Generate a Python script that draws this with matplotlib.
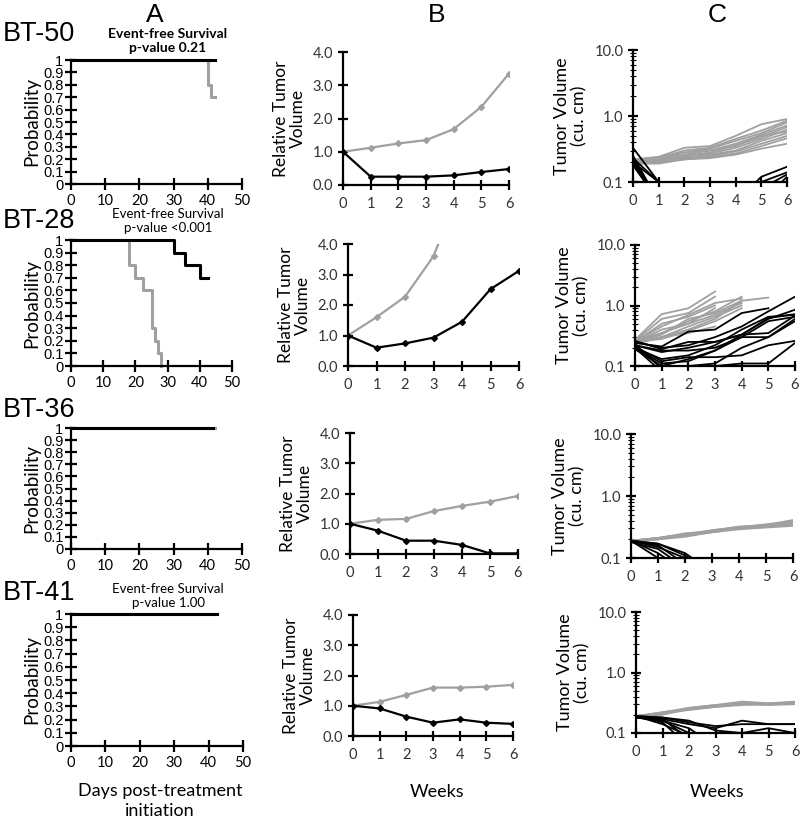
import numpy as np
import matplotlib
matplotlib.use("Agg")
from matplotlib import pyplot as plt
from matplotlib.ticker import FixedLocator, NullFormatter, LogLocator

W, H = 800, 824
GRAY = "#a0a0a0"
CAL = ["Lato", "DejaVu Sans"]
ARL = ["Liberation Sans", "DejaVu Sans"]

models = ["BT-50", "BT-28", "BT-36", "BT-41"]
efs_titles = ["Event-free Survival\np-value 0.21", "Event-free Survival\np-value <0.001",
              None, "Event-free Survival\np-value 1.00"]

# A: Kaplan-Meier steps (days, probability)
km_ctrl_t = [[0, 40, 41, 42], [0, 18, 20, 22.5, 25, 26, 27, 28], [0, 42], [0, 42]]
km_ctrl_p = [[1, 0.8, 0.7, 0.7], [1, 0.8, 0.7, 0.6, 0.3, 0.2, 0.1, 0.0], [1, 1], [1, 1]]
km_trt_t = [[0, 42], [0, 32, 35.5, 40, 42.5], [0, 41.5], [0, 42.3]]
km_trt_p = [[1, 1], [1, 0.9, 0.8, 0.7, 0.7], [1, 1], [1, 1]]

# B: relative tumor volume (mean), weeks 0-6
weeks = [0, 1, 2, 3, 4, 5, 6]
rtv_ctrl = [[1.0, 1.12, 1.25, 1.35, 1.68, 2.35, 3.35],
            [1.0, 1.6, 2.27, 3.6, 6.0],
            [1.0, 1.13, 1.16, 1.42, 1.59, 1.73, 1.92],
            [1.0, 1.13, 1.36, 1.6, 1.6, 1.63, 1.69]]
rtv_trt = [[1.0, 0.25, 0.25, 0.25, 0.29, 0.39, 0.48],
           [1.0, 0.6, 0.74, 0.93, 1.45, 2.52, 3.12],
           [1.0, 0.77, 0.44, 0.44, 0.3, 0.02, 0.02],
           [1.0, 0.91, 0.64, 0.44, 0.55, 0.44, 0.4]]

# C: individual tumor volumes (cu. cm)
tv_ctrl = [
    [[0.21, 0.24, 0.33, 0.35, 0.5, 0.75, 0.9],
     [0.22, 0.23, 0.3, 0.33, 0.45, 0.6, 0.85],
     [0.2, 0.22, 0.28, 0.32, 0.42, 0.55, 0.8],
     [0.21, 0.22, 0.26, 0.3, 0.38, 0.52, 0.72],
     [0.2, 0.21, 0.25, 0.28, 0.36, 0.48, 0.68],
     [0.2, 0.2, 0.24, 0.27, 0.33, 0.45, 0.62],
     [0.19, 0.21, 0.25, 0.26, 0.3, 0.42, 0.55],
     [0.2, 0.2, 0.23, 0.25, 0.29, 0.38, 0.5],
     [0.21, 0.2, 0.22, 0.24, 0.27, 0.35, 0.46],
     [0.19, 0.19, 0.22, 0.23, 0.26, 0.32, 0.38],
     [0.22, 0.24, 0.28, 0.3, 0.35, 0.5, 0.58]],
    [[0.27, 0.72, 0.9, 1.7],
     [0.26, 0.6, 0.75, 1.4],
     [0.25, 0.45, 0.7, 1.1, 1.3],
     [0.25, 0.35, 0.55, 0.8, 1.4],
     [0.24, 0.4, 0.5, 0.7, 1.1],
     [0.25, 0.3, 0.45, 0.65, 1.0],
     [0.24, 0.3, 0.4, 0.6, 1.2, 1.35],
     [0.26, 0.35, 0.5, 0.9],
     [0.25, 0.28, 0.38, 0.55, 0.9],
     [0.23, 0.3, 0.35, 0.45],
     [0.24, 0.33, 0.6, 0.75, 1.2],
     [0.25, 0.5, 0.65, 1.0]],
    [[0.19, 0.21, 0.24, 0.27, 0.31, 0.34, 0.41],
     [0.19, 0.21, 0.24, 0.28, 0.32, 0.33, 0.38],
     [0.19, 0.2, 0.23, 0.27, 0.3, 0.33, 0.36],
     [0.19, 0.2, 0.22, 0.26, 0.3, 0.32, 0.34],
     [0.19, 0.21, 0.25, 0.27, 0.32, 0.34, 0.37],
     [0.19, 0.2, 0.23, 0.26, 0.29, 0.31, 0.33],
     [0.19, 0.21, 0.24, 0.28, 0.31, 0.35, 0.39]],
    [[0.19, 0.21, 0.25, 0.28, 0.32, 0.31, 0.32],
     [0.19, 0.22, 0.26, 0.29, 0.31, 0.3, 0.31],
     [0.19, 0.21, 0.24, 0.27, 0.3, 0.3, 0.31],
     [0.19, 0.22, 0.25, 0.28, 0.3, 0.29, 0.3],
     [0.19, 0.21, 0.26, 0.29, 0.33, 0.31, 0.33],
     [0.19, 0.2, 0.25, 0.27, 0.29, 0.3, 0.3],
     [0.19, 0.21, 0.25, 0.28, 0.31, 0.3, 0.32]],
]
tv_trt = [
    [[0.33, 0.1, 0.1, 0.1, 0.1, 0.1, 0.1],
     [0.22, 0.05, 0.05, 0.05, 0.05, 0.12, 0.17],
     [0.2, 0.1, 0.1, 0.1, 0.1, 0.1, 0.14],
     [0.18, 0.05, 0.05, 0.05, 0.05, 0.08, 0.13],
     [0.23, 0.1, 0.1, 0.1, 0.1, 0.1, 0.1],
     [0.2, 0.05, 0.05, 0.05, 0.05, 0.05, 0.12],
     [0.25, 0.05, 0.05, 0.05, 0.05, 0.05, 0.05]],
    [[0.25, 0.2, 0.22, 0.3, 0.45, 0.8, 1.4],
     [0.24, 0.21, 0.37, 0.4, 0.75, 0.9],
     [0.22, 0.17, 0.2, 0.25, 0.33, 0.6, 0.85],
     [0.2, 0.13, 0.15, 0.22, 0.4, 0.65, 0.7],
     [0.22, 0.18, 0.18, 0.2, 0.3, 0.55, 0.65],
     [0.2, 0.11, 0.12, 0.18, 0.3, 0.3, 0.55],
     [0.21, 0.12, 0.14, 0.14, 0.15, 0.22, 0.26],
     [0.23, 0.09, 0.1, 0.11, 0.2, 0.3, 0.6],
     [0.2, 0.08, 0.1, 0.1, 0.11, 0.11, 0.24],
     [0.19, 0.1, 0.13, 0.18, 0.33, 0.62, 0.72],
     [0.26, 0.19, 0.25, 0.25, 0.33, 0.35, 0.68]],
    [[0.19, 0.1, 0.05, 0.05, 0.05, 0.05, 0.05],
     [0.19, 0.12, 0.06, 0.05, 0.05, 0.05, 0.05],
     [0.19, 0.16, 0.08, 0.05, 0.05, 0.05, 0.05],
     [0.19, 0.17, 0.11, 0.06, 0.05, 0.05, 0.05],
     [0.19, 0.15, 0.1, 0.1, 0.1, 0.1, 0.1],
     [0.19, 0.17, 0.12, 0.06, 0.05, 0.05, 0.05],
     [0.18, 0.14, 0.07, 0.05, 0.05, 0.05, 0.05]],
    [[0.19, 0.18, 0.15, 0.13, 0.14, 0.14, 0.14],
     [0.18, 0.17, 0.14, 0.12, 0.16, 0.14, 0.14],
     [0.19, 0.18, 0.16, 0.11, 0.1, 0.12, 0.1],
     [0.18, 0.16, 0.1, 0.1, 0.1, 0.1, 0.1],
     [0.19, 0.15, 0.06, 0.05, 0.05, 0.05, 0.05],
     [0.18, 0.17, 0.08, 0.05, 0.05, 0.05, 0.05],
     [0.19, 0.14, 0.09, 0.05, 0.05, 0.05, 0.05],
     [0.18, 0.16, 0.12, 0.06, 0.05, 0.05, 0.05]],
]

# axes boxes in pixels: x0, x1, ytop, ybottom
box_a = [[71, 242, 60, 184], [71, 232, 240, 366], [71, 242, 428, 549], [71, 243, 614, 746]]
box_b = [[343, 509, 52, 185], [348, 519, 244, 366], [350, 518, 433, 554], [353, 513, 615, 736]]
box_c = [[633, 787, 50, 182], [635, 795, 245, 366], [631, 793, 434, 558], [636, 795, 612, 733]]
bt_y = [34, 221, 410, 593]
efs_y = [33, 213, None, 588]

fig = plt.figure(figsize=(W / 100, H / 100), dpi=100)


def add_ax(b):
    x0, x1, yt, yb = b
    ax = fig.add_axes([x0 / W, 1 - yb / H, (x1 - x0) / W, (yb - yt) / H])
    for s in ["top", "right"]:
        ax.spines[s].set_visible(False)
    for s in ["left", "bottom"]:
        ax.spines[s].set_linewidth(1.6)
    ax.patch.set_alpha(0)
    return ax


def txt(x, y, s, **kw):
    fig.text(x / W, 1 - y / H, s, **kw)


for i in range(4):
    # column A
    ax = add_ax(box_a[i])
    ax.step(km_ctrl_t[i], km_ctrl_p[i], where="post", color=GRAY, lw=2.2, clip_on=False)
    ax.step(km_trt_t[i], km_trt_p[i], where="post", color="black", lw=2.2, clip_on=False)
    ax.set_xlim(0, 50)
    ax.set_ylim(0, 1)
    ax.set_xticks(range(0, 51, 10))
    ax.set_yticks(np.arange(0, 1.01, 0.1))
    ax.set_yticklabels(["0", "0.1", "0.2", "0.3", "0.4", "0.5", "0.6", "0.7", "0.8", "0.9", "1"],
                       family=ARL, fontsize=10.5)
    ax.tick_params(axis="y", direction="inout", length=9, width=1.6, pad=1)
    ax.tick_params(axis="x", direction="inout", length=9, width=1.6, pad=3, labelsize=10.5)
    for lab in ax.get_xticklabels():
        lab.set_family(CAL)
    ax.set_ylabel("Probability", family=CAL, fontsize=13.5, labelpad=2)
    txt(3, bt_y[i], models[i], family=ARL, fontsize=19.5, va="center", ha="left")
    if efs_titles[i]:
        txt(168, efs_y[i] + 8, efs_titles[i], family=CAL, fontsize=10 if i == 0 else 9.5,
            ha="center", va="center", weight="bold" if i == 0 else "normal", linespacing=1.15)

    # column B
    ax = add_ax(box_b[i])
    ax.plot(weeks[:len(rtv_ctrl[i])], rtv_ctrl[i], color=GRAY, lw=1.6, marker="D", ms=3)
    ax.plot(weeks[:len(rtv_trt[i])], rtv_trt[i], color="black", lw=1.6, marker="D", ms=3)
    ax.set_xlim(0, 6)
    ax.set_ylim(0, 4)
    ax.set_xticks(weeks)
    ax.set_yticks([0, 1, 2, 3, 4])
    ax.set_yticklabels(["0.0", "1.0", "2.0", "3.0", "4.0"])
    ax.tick_params(direction="inout", length=7, width=1.6, labelsize=10.5)
    ax.tick_params(axis="x", pad=5)
    for lab in ax.get_xticklabels() + ax.get_yticklabels():
        lab.set_family(CAL)
        lab.set_color("#333333")
    ax.set_ylabel("Relative Tumor\nVolume", family=CAL, fontsize=12.5, labelpad=5, linespacing=1.1)

    # column C
    ax = add_ax(box_c[i])
    for v in tv_ctrl[i]:
        ax.plot(weeks[:len(v)], v, color=GRAY, lw=1.3)
    for v in tv_trt[i]:
        ax.plot(weeks[:len(v)], v, color="black", lw=1.3)
    ax.set_yscale("log")
    ax.set_xlim(0, 6)
    ax.set_ylim(0.1, 10)
    ax.set_xticks(weeks)
    ax.yaxis.set_major_locator(FixedLocator([0.1, 1, 10]))
    ax.set_yticklabels(["0.1", "1.0", "10.0"])
    ax.yaxis.set_minor_locator(LogLocator(base=10, subs=np.arange(2, 10)))
    ax.yaxis.set_minor_formatter(NullFormatter())
    ax.tick_params(direction="inout", length=7, width=1.6, labelsize=10.5)
    ax.tick_params(axis="y", which="minor", direction="inout", length=4, width=0.8)
    ax.tick_params(axis="x", pad=5)
    for lab in ax.get_xticklabels() + ax.get_yticklabels():
        lab.set_family(CAL)
        lab.set_color("#333333")
    ax.set_ylabel("Tumor Volume\n(cu. cm)", family=CAL, fontsize=13, labelpad=5, linespacing=1.1)

txt(155, 15, "A", family=ARL, fontsize=19, ha="center", va="center")
txt(437, 15, "B", family=ARL, fontsize=19, ha="center", va="center")
txt(717, 15, "C", family=ARL, fontsize=19, ha="center", va="center")
txt(160, 801, "Days post-treatment\ninitiation", family=CAL, fontsize=13, ha="center", va="center",
    linespacing=1.3)
txt(437, 792, "Weeks", family=CAL, fontsize=13, ha="center", va="center")
txt(717, 792, "Weeks", family=CAL, fontsize=13, ha="center", va="center")

fig.savefig("out.png", dpi=100)
